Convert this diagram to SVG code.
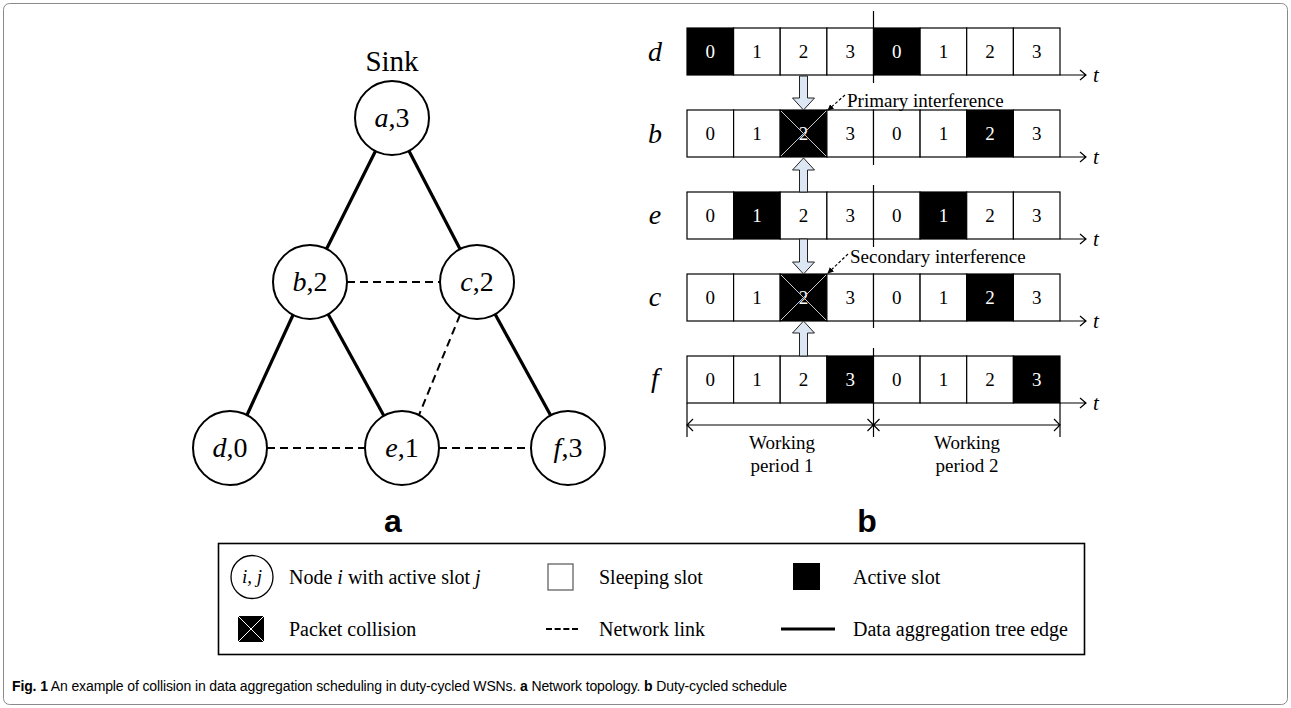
<svg xmlns="http://www.w3.org/2000/svg" width="1291" height="708" viewBox="0 0 1291 708">
<style>
.s{font-family:"Liberation Serif","Times New Roman",serif;fill:#000}
.i{font-style:italic}
.num{font-size:19px;text-anchor:middle}
.w{fill:#fff}
.cell{fill:#fff;stroke:#000;stroke-width:1.2}
.act{fill:#000;stroke:#000;stroke-width:1.2}
.x{stroke:#c8c8c8;stroke-width:1}
.ax{stroke:#000;stroke-width:1.2;fill:none}
.node{fill:#fff;stroke:#000;stroke-width:2}
.tree{stroke:#000;stroke-width:3.2}
.link{stroke:#000;stroke-width:2;stroke-dasharray:8 5}
.barrow{fill:#dde6f3;stroke:#222;stroke-width:1}
.lab{font-size:28px;text-anchor:middle}
.rl{font-size:28px;font-style:italic;text-anchor:middle}
.t{font-size:21px;font-style:italic}
.leg{font-size:20px}
.sans{font-family:"Liberation Sans",Arial,sans-serif}
</style>
<defs>
<marker id="ah" viewBox="0 0 10 10" refX="9" refY="5" markerWidth="6" markerHeight="6" orient="auto" markerUnits="userSpaceOnUse">
<path d="M0,0 L10,5 L0,10 Z" fill="#000"/>
</marker>
</defs>

<rect x="3.5" y="3.5" width="1284" height="701" rx="6" fill="none" stroke="#8a8a8a" stroke-width="1"/>

<!-- Part a: tree -->
<text class="s" x="392" y="71" font-size="29" text-anchor="middle">Sink</text>
<g id="connectors">
<line class="tree" x1="375.5" y1="151" x2="326.5" y2="249"/>
<line class="tree" x1="409" y1="151" x2="460" y2="249"/>
<line class="tree" x1="293" y1="315" x2="247" y2="415"/>
<line class="tree" x1="328" y1="314" x2="384" y2="416"/>
<line class="tree" x1="495" y1="314" x2="551" y2="416"/>
<line class="link" x1="347" y1="282" x2="440" y2="282"/>
<line class="link" x1="460" y1="315" x2="419" y2="415"/>
<line class="link" x1="267" y1="448" x2="365" y2="448"/>
<line class="link" x1="439" y1="448" x2="531" y2="448"/>
</g>
<g id="node-a"><circle class="node" cx="392" cy="118" r="37"/><text class="s lab" x="392" y="127"><tspan class="i">a</tspan>,3</text></g>
<g id="node-b"><circle class="node" cx="310" cy="282" r="37"/><text class="s lab" x="310" y="291"><tspan class="i">b</tspan>,2</text></g>
<g id="node-c"><circle class="node" cx="477" cy="282" r="37"/><text class="s lab" x="477" y="291"><tspan class="i">c</tspan>,2</text></g>
<g id="node-d"><circle class="node" cx="230" cy="448" r="37"/><text class="s lab" x="230" y="457"><tspan class="i">d</tspan>,0</text></g>
<g id="node-e"><circle class="node" cx="402" cy="448" r="37"/><text class="s lab" x="402" y="457"><tspan class="i">e</tspan>,1</text></g>
<g id="node-f"><circle class="node" cx="568" cy="448" r="37"/><text class="s lab" x="568" y="457"><tspan class="i">f</tspan>,3</text></g>
<text class="sans" x="393" y="532" font-size="32" font-weight="bold" text-anchor="middle">a</text>

<!-- Part b: schedule -->
<g id="divider" class="ax">
<line x1="873.5" y1="11" x2="873.5" y2="28"/>
<line x1="873.5" y1="75" x2="873.5" y2="83"/>
<line x1="873.5" y1="157" x2="873.5" y2="165"/>
<line x1="873.5" y1="185" x2="873.5" y2="192"/>
<line x1="873.5" y1="239" x2="873.5" y2="247"/>
<line x1="873.5" y1="321" x2="873.5" y2="328"/>
<line x1="873.5" y1="348" x2="873.5" y2="356"/>
</g>

<g id="row-d">
<text class="s rl" x="655" y="61">d</text>
<rect class="act" x="687" y="28" width="46.6" height="47"/>
<rect class="cell" x="733.6" y="28" width="46.6" height="47"/>
<rect class="cell" x="780.2" y="28" width="46.7" height="47"/>
<rect class="cell" x="826.9" y="28" width="46.6" height="47"/>
<rect class="act" x="873.5" y="28" width="46.6" height="47"/>
<rect class="cell" x="920.1" y="28" width="46.6" height="47"/>
<rect class="cell" x="966.7" y="28" width="46.7" height="47"/>
<rect class="cell" x="1013.4" y="28" width="46.6" height="47"/>
<text class="s num w" x="710.3" y="58">0</text><text class="s num" x="756.9" y="58">1</text><text class="s num" x="803.5" y="58">2</text><text class="s num" x="850.2" y="58">3</text>
<text class="s num w" x="896.8" y="58">0</text><text class="s num" x="943.4" y="58">1</text><text class="s num" x="990" y="58">2</text><text class="s num" x="1036.7" y="58">3</text>
<path class="ax" d="M1060,75 H1086 M1080,70 L1086,75 L1080,80"/>
<text class="s t" x="1093" y="82">t</text>
</g>

<g id="row-b">
<text class="s rl" x="655" y="143">b</text>
<rect class="cell" x="687" y="110" width="46.6" height="47"/>
<rect class="cell" x="733.6" y="110" width="46.6" height="47"/>
<rect class="act" x="780.2" y="110" width="46.7" height="47"/>
<rect class="cell" x="826.9" y="110" width="46.6" height="47"/>
<rect class="cell" x="873.5" y="110" width="46.6" height="47"/>
<rect class="cell" x="920.1" y="110" width="46.6" height="47"/>
<rect class="act" x="966.7" y="110" width="46.7" height="47"/>
<rect class="cell" x="1013.4" y="110" width="46.6" height="47"/>
<text class="s num" x="710.3" y="140">0</text><text class="s num" x="756.9" y="140">1</text><text class="s num w" x="803.5" y="140">2</text><text class="s num" x="850.2" y="140">3</text>
<text class="s num" x="896.8" y="140">0</text><text class="s num" x="943.4" y="140">1</text><text class="s num w" x="990" y="140">2</text><text class="s num" x="1036.7" y="140">3</text>
<path class="x" d="M781,111 L826,156 M826,111 L781,156"/>
<path class="ax" d="M1060,157 H1086 M1080,152 L1086,157 L1080,162"/>
<text class="s t" x="1093" y="164">t</text>
</g>

<g id="row-e">
<text class="s rl" x="655" y="224">e</text>
<rect class="cell" x="687" y="192" width="46.6" height="47"/>
<rect class="act" x="733.6" y="192" width="46.6" height="47"/>
<rect class="cell" x="780.2" y="192" width="46.7" height="47"/>
<rect class="cell" x="826.9" y="192" width="46.6" height="47"/>
<rect class="cell" x="873.5" y="192" width="46.6" height="47"/>
<rect class="act" x="920.1" y="192" width="46.6" height="47"/>
<rect class="cell" x="966.7" y="192" width="46.7" height="47"/>
<rect class="cell" x="1013.4" y="192" width="46.6" height="47"/>
<text class="s num" x="710.3" y="222">0</text><text class="s num w" x="756.9" y="222">1</text><text class="s num" x="803.5" y="222">2</text><text class="s num" x="850.2" y="222">3</text>
<text class="s num" x="896.8" y="222">0</text><text class="s num w" x="943.4" y="222">1</text><text class="s num" x="990" y="222">2</text><text class="s num" x="1036.7" y="222">3</text>
<path class="ax" d="M1060,239 H1086 M1080,234 L1086,239 L1080,244"/>
<text class="s t" x="1093" y="246">t</text>
</g>

<g id="row-c">
<text class="s rl" x="655" y="306">c</text>
<rect class="cell" x="687" y="274" width="46.6" height="47"/>
<rect class="cell" x="733.6" y="274" width="46.6" height="47"/>
<rect class="act" x="780.2" y="274" width="46.7" height="47"/>
<rect class="cell" x="826.9" y="274" width="46.6" height="47"/>
<rect class="cell" x="873.5" y="274" width="46.6" height="47"/>
<rect class="cell" x="920.1" y="274" width="46.6" height="47"/>
<rect class="act" x="966.7" y="274" width="46.7" height="47"/>
<rect class="cell" x="1013.4" y="274" width="46.6" height="47"/>
<text class="s num" x="710.3" y="304">0</text><text class="s num" x="756.9" y="304">1</text><text class="s num w" x="803.5" y="304">2</text><text class="s num" x="850.2" y="304">3</text>
<text class="s num" x="896.8" y="304">0</text><text class="s num" x="943.4" y="304">1</text><text class="s num w" x="990" y="304">2</text><text class="s num" x="1036.7" y="304">3</text>
<path class="x" d="M781,275 L826,320 M826,275 L781,320"/>
<path class="ax" d="M1060,321 H1086 M1080,316 L1086,321 L1080,326"/>
<text class="s t" x="1093" y="328">t</text>
</g>

<g id="row-f">
<text class="s rl" x="655" y="387">f</text>
<rect class="cell" x="687" y="356" width="46.6" height="47"/>
<rect class="cell" x="733.6" y="356" width="46.6" height="47"/>
<rect class="cell" x="780.2" y="356" width="46.7" height="47"/>
<rect class="act" x="826.9" y="356" width="46.6" height="47"/>
<rect class="cell" x="873.5" y="356" width="46.6" height="47"/>
<rect class="cell" x="920.1" y="356" width="46.6" height="47"/>
<rect class="cell" x="966.7" y="356" width="46.7" height="47"/>
<rect class="act" x="1013.4" y="356" width="46.6" height="47"/>
<text class="s num" x="710.3" y="386">0</text><text class="s num" x="756.9" y="386">1</text><text class="s num" x="803.5" y="386">2</text><text class="s num w" x="850.2" y="386">3</text>
<text class="s num" x="896.8" y="386">0</text><text class="s num" x="943.4" y="386">1</text><text class="s num" x="990" y="386">2</text><text class="s num w" x="1036.7" y="386">3</text>
<path class="ax" d="M1060,403 H1086 M1080,398 L1086,403 L1080,408"/>
<text class="s t" x="1093" y="410">t</text>
</g>

<g id="interference-arrows">
<path class="barrow" d="M799.5,76 L807.5,76 L807.5,98 L814.5,98 L803.5,110 L792.5,98 L799.5,98 Z"/>
<path class="barrow" d="M799.5,192 L807.5,192 L807.5,170 L814.5,170 L803.5,158 L792.5,170 L799.5,170 Z"/>
<path class="barrow" d="M799.5,239 L807.5,239 L807.5,262 L814.5,262 L803.5,274 L792.5,262 L799.5,262 Z"/>
<path class="barrow" d="M799.5,356 L807.5,356 L807.5,333 L814.5,333 L803.5,321 L792.5,333 L799.5,333 Z"/>
<line x1="845" y1="95" x2="828" y2="110" stroke="#000" stroke-width="1.2" stroke-dasharray="3 2" marker-end="url(#ah)"/>
<line x1="848" y1="254" x2="828" y2="273" stroke="#000" stroke-width="1.2" stroke-dasharray="3 2" marker-end="url(#ah)"/>
</g>
<text class="s" x="847" y="107" font-size="19">Primary interference</text>
<text class="s" x="850" y="263" font-size="19">Secondary interference</text>

<g id="working-periods" class="ax">
<line x1="687" y1="403" x2="687" y2="437"/>
<line x1="873.5" y1="403" x2="873.5" y2="437"/>
<line x1="1060" y1="403" x2="1060" y2="437"/>
<path d="M687,425 H1060 M693,419 L687,425 L693,431 M867.5,419 L873.5,425 L867.5,431 M879.5,419 L873.5,425 L879.5,431 M1054,419 L1060,425 L1054,431"/>
</g>
<text class="s" x="782" y="449" font-size="19" text-anchor="middle">Working</text>
<text class="s" x="782" y="472" font-size="19" text-anchor="middle">period 1</text>
<text class="s" x="967" y="449" font-size="19" text-anchor="middle">Working</text>
<text class="s" x="967" y="472" font-size="19" text-anchor="middle">period 2</text>
<text class="sans" x="867" y="532" font-size="32" font-weight="bold" text-anchor="middle">b</text>

<!-- Legend -->
<g id="legend">
<rect x="218.5" y="543.5" width="866" height="111" fill="none" stroke="#000" stroke-width="1.6"/>
<ellipse cx="252" cy="577" rx="21" ry="21.5" fill="#fff" stroke="#000" stroke-width="1.3"/>
<text class="s i" x="252" y="583" font-size="19" text-anchor="middle">i, j</text>
<text class="s leg" x="289" y="584">Node <tspan class="i">i</tspan> with active slot <tspan class="i">j</tspan></text>
<rect x="548" y="564" width="25" height="26" fill="#fff" stroke="#555" stroke-width="1.2"/>
<text class="s leg" x="599" y="584">Sleeping slot</text>
<rect x="793" y="563" width="27" height="27" fill="#000"/>
<text class="s leg" x="853" y="584">Active slot</text>
<rect x="238" y="616" width="26" height="26" fill="#000"/>
<path d="M238,616 L264,642 M264,616 L238,642" stroke="#fff" stroke-width="1"/>
<text class="s leg" x="289" y="636">Packet collision</text>
<line x1="546" y1="629" x2="578" y2="629" stroke="#000" stroke-width="2" stroke-dasharray="6 2.67"/>
<text class="s leg" x="599" y="636">Network link</text>
<line x1="781" y1="629" x2="835" y2="629" stroke="#000" stroke-width="3"/>
<text class="s leg" x="853" y="636">Data aggregation tree edge</text>
</g>

<text class="sans" x="12" y="691" font-size="14" textLength="775" lengthAdjust="spacing"><tspan font-weight="bold">Fig. 1</tspan> An example of collision in data aggregation scheduling in duty-cycled WSNs. <tspan font-weight="bold">a</tspan> Network topology. <tspan font-weight="bold">b</tspan> Duty-cycled schedule</text>
</svg>
